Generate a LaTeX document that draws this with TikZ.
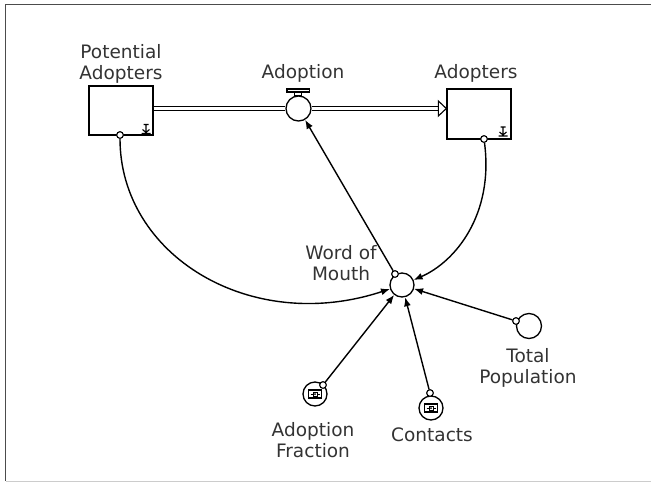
\documentclass[tikz,border=0pt]{standalone}
\usepackage{fontspec}
\setmainfont{DejaVu Sans}
\usetikzlibrary{arrows.meta,calc}
\begin{document}
\begin{tikzpicture}[x=1pt,y=-1pt,
  stock/.style={draw, line width=1.3pt, minimum width=64pt, minimum height=49pt, inner sep=0pt},
  aux/.style={draw, circle, line width=1.3pt, minimum size=24pt, inner sep=0pt, fill=white},
  lbl/.style={align=center, font=\fontsize{18.5}{20.5}\selectfont, text=black!80, inner sep=0pt},
  link/.style={line width=1.4pt, -{Latex[length=9pt,width=7pt]}},
  tap/.style={draw, circle, line width=1pt, minimum size=6.5pt, inner sep=0pt, fill=white},
  pipe/.style={draw, double, double distance=2.6pt, line width=1.1pt},
  nonneg/.pic={\draw[line width=1.1pt] (-2.5,-4.5) -- (2.5,-4.5) (0,-4.5) -- (0,4.5)
                 (-4.5,4.5) -- (4.5,4.5) (-3.5,0.5) -- (0,3.5) -- (3.5,0.5);},
  convicon/.pic={\draw[line width=1.1pt] (-6.5,-4) rectangle (6.5,4);
                 \draw[line width=0.9pt] (-4.5,0) -- (4.5,0);
                 \draw[line width=0.9pt, fill=white] (-2,-2) rectangle (2,2);
                 \fill (0,0) circle (1);}
]
\useasboundingbox (0,0) rectangle (651,482);
% window frame
\draw[black!70, line width=1.2pt] (651,4.5) -- (5.5,4.5) -- (5.5,481);
\draw[black!20, line width=1pt] (5.5,481) -- (651,481);

% stocks
\node[stock] (pa) at (121,110.5) {};
\node[stock, minimum height=50pt] (ad) at (479,114) {};
\pic at (146,129) {nonneg};
\pic at (503,131.5) {nonneg};

% flow valve
\draw[line width=1.1pt, fill=white] (294.5,91) rectangle (301.5,96);
\draw[line width=1.1pt, fill=white] (287,89) rectangle (309.5,92);
\node[aux, minimum size=25pt] (valve) at (298.5,108.5) {};

% flow pipe
\draw[pipe] (pa.east |- valve.center) -- (valve.west);
\coordinate (tip) at (ad.west |- valve.center);
\draw[pipe] (valve.east) -- ($(tip)+(-8,0)$);
\draw[line width=1.1pt, fill=white] ($(tip)+(-8,-7.5)$) -- (tip) -- ($(tip)+(-8,7.5)$) -- cycle;

% auxiliaries
\node[aux] (wom) at (402,285) {};
\node[aux, minimum size=25pt] (tp) at (529,326) {};
\node[aux] (af) at (315,394) {};
\node[aux] (ct) at (431,408) {};
\pic at (af.center) {convicon};
\pic at (ct.center) {convicon};

% links
\node[tap] (tpa) at (120,135) {};
\node[tap] (tad) at (484,139) {};
\node[tap] (twom) at (395,274) {};
\node[tap] (ttp) at (516,321) {};
\node[tap] (taf) at (323,385) {};
\node[tap] (tct) at (430,393) {};

\draw[link] (tpa) .. controls (120,255) and (250,335) .. (wom);
\draw[link] (tad) .. controls (494,215) and (455,262) .. (wom);
\draw[link] (twom) -- (valve);
\draw[link] (ttp) -- (wom);
\draw[link] (taf) -- (wom);
\draw[link] (tct) -- (wom);
\node[tap] at (tpa) {};
\node[tap] at (tad) {};
\node[tap] at (twom) {};
\node[tap] at (ttp) {};
\node[tap] at (taf) {};
\node[tap] at (tct) {};

% labels
\node[lbl] (lpa) at (121,64) {Potential\\Adopters};
\node[lbl] (lvalve) at (303,73) {Adoption};
\node[lbl] (lad) at (476,73) {Adopters};
\node[lbl] (lwom) at (341,263) {Word of\\Mouth};
\node[lbl] (ltp) at (528,368) {Total\\Population};
\node[lbl] (laf) at (313,440) {Adoption\\Fraction};
\node[lbl] (lct) at (432,435) {Contacts};
\end{tikzpicture}
\end{document}
